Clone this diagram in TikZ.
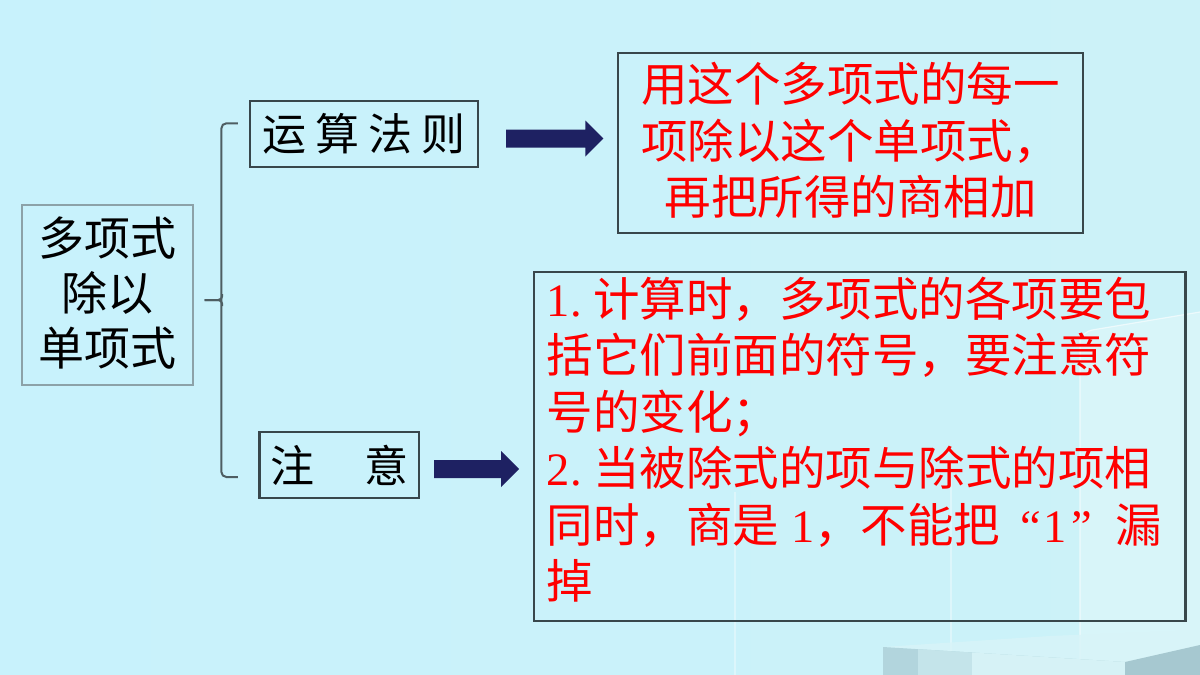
\documentclass[tikz,border=0pt]{standalone}
\usepackage{fontspec}
\setmainfont{Noto Sans CJK SC}
\newfontfamily\rom{Liberation Serif}
\usetikzlibrary{calc}
\definecolor{bgl}{HTML}{C8F2FC}
\definecolor{bgm}{HTML}{D3FDFD}
\definecolor{bgr}{HTML}{CCF2F8}
\definecolor{navy}{HTML}{1E2162}
\definecolor{edgedark}{HTML}{38474B}
\definecolor{edgelight}{HTML}{8CA2A8}
\definecolor{brk}{HTML}{4E5E62}
\definecolor{txtred}{HTML}{FF0000}
\definecolor{cubetop}{HTML}{D8F4F8}
\definecolor{cubefront}{HTML}{B2D5DD}
\definecolor{cubemid}{HTML}{C4E4EA}
\definecolor{cubelight}{HTML}{D6F2F6}
\definecolor{cubeside}{HTML}{A6C8D0}
\newcommand{\fatarrow}[2]{%
  \fill[navy] ($(#1)+(0,-9)$) -- ($(#2)+(-18,-9)$) -- ($(#2)+(-18,-18)$) -- (#2)
    -- ($(#2)+(-18,18)$) -- ($(#2)+(-18,9)$) -- ($(#1)+(0,9)$) -- cycle;}
\begin{document}
\begin{tikzpicture}[x=1pt,y=-1pt,
  box/.style={draw=edgedark,line width=2.2pt,rectangle,inner sep=0pt},
  lbox/.style={draw=edgelight,line width=2pt,rectangle,inner sep=0pt},
  blacktext/.style={text=black,font=\fontsize{46}{55}\selectfont,align=center},
  redtext/.style={text=txtred,font=\fontsize{46.5}{56.4}\selectfont,inner sep=0pt}
]
% background
\useasboundingbox (0,0) rectangle (1200,675);
\shade[left color=bgl, middle color=bgm, right color=bgr] (0,0) rectangle (1200,675);
% glass decoration
\fill[white,opacity=0.25] (1080,675) -- (1080,334) to[out=-80,in=180] (1092,330) -- (1200,312) -- (1200,675) -- cycle;
\draw[white,opacity=0.6,line width=1.2pt] (1080,675) -- (1080,334) to[out=-80,in=180] (1092,330) -- (1200,312);
\draw[white,opacity=0.35,line width=1.5pt] (735,492) -- (735,675);
\draw[white,opacity=0.35,line width=1.5pt] (951,478) -- (951,675);
\fill[cubetop,opacity=0.8] (883,647) -- (1050,636) -- (1200,630) -- (1200,645) -- (1125,662) -- cycle;
\fill[cubefront] (883,647) -- (1125,662) -- (1125,675) -- (883,675) -- cycle;
\fill[cubemid] (918,649.2) -- (972,652.5) -- (972,675) -- (918,675) -- cycle;
\fill[cubelight] (972,652.5) -- (1125,662) -- (1125,675) -- (972,675) -- cycle;
\fill[cubeside] (1125,662) -- (1200,645) -- (1200,675) -- (1125,675) -- cycle;
% nodes
\node[lbox,minimum width=171pt,minimum height=180pt] (main) at (107.7,295) {};
\node[blacktext,inner sep=0pt] (maintext) at ($(main.center)+(0,-1.5)$) {多项式\\除以\\单项式};
\node[box,minimum width=227.6pt,minimum height=65.7pt,text=black,font=\fontsize{44}{50}\selectfont] (rule) at (363.8,134) {运\hspace{9pt}算\hspace{9pt}法\hspace{9pt}则};
\node[box,minimum width=159.6pt,minimum height=66.6pt,text=black,font=\fontsize{44}{50}\selectfont] (note) at (339.2,465) {注\hspace{50pt}意};
\node[box,minimum width=464.3pt,minimum height=180pt] (ruletext) at (850.5,143.3) {};
\node[redtext,align=center,text width=440pt] (rulebody) at ($(ruletext.center)+(0,-3)$)
  {用这个多项式的每一\\项除以这个单项式，\\再把所得的商相加};
\node[box,minimum width=651.3pt,minimum height=349pt] (notetext) at (859.9,446.2) {};
\node[redtext,align=left,text width=626pt] (notebody) at ($(notetext.center)+(0,-6.5)$)
  {{\rom 1.\hspace{11.6pt}}计算时，多项式的各项要包\\
   括它们前面的符号，要注意符\\
   号的变化；\\
   {\rom 2.\hspace{11.6pt}}当被除式的项与除式的项相\\
   同时，商是{\rom\hspace{11.6pt}1}，不能把\hspace{20pt}{\rom “\hspace{3pt}1\hspace{4pt}”}\hspace{24pt}漏\\
   掉};
% bracket
\coordinate (bmid) at ($(main.east)+(10.5,5)$);
\coordinate (btop) at ($(rule.west)+(-11,-10.7)$);
\coordinate (bbot) at ($(note.west)+(-20.5,12)$);
\draw[brk,line width=2pt,rounded corners=5pt]
  (btop) -- (btop -| 221.4,0) -- (bbot -| 221.4,0) -- (bbot);
\draw[brk,line width=2pt,rounded corners=4pt]
  (bmid) -- ($(bmid)+(17.5,0)$) -- ($(bmid)+(17.5,-6)$);
\draw[brk,line width=2pt,rounded corners=4pt]
  (bmid) -- ($(bmid)+(17.5,0)$) -- ($(bmid)+(17.5,6)$);
% arrows
\coordinate (a1s) at ($(rule.east)+(27.4,4.5)$);
\coordinate (a1e) at ($(ruletext.west |- a1s)+(-14,0)$);
\fatarrow{a1s}{a1e}
\coordinate (a2s) at ($(note.east)+(14,4)$);
\coordinate (a2e) at ($(notetext.west |- a2s)+(-14,0)$);
\fatarrow{a2s}{a2e}
\end{tikzpicture}
\end{document}
